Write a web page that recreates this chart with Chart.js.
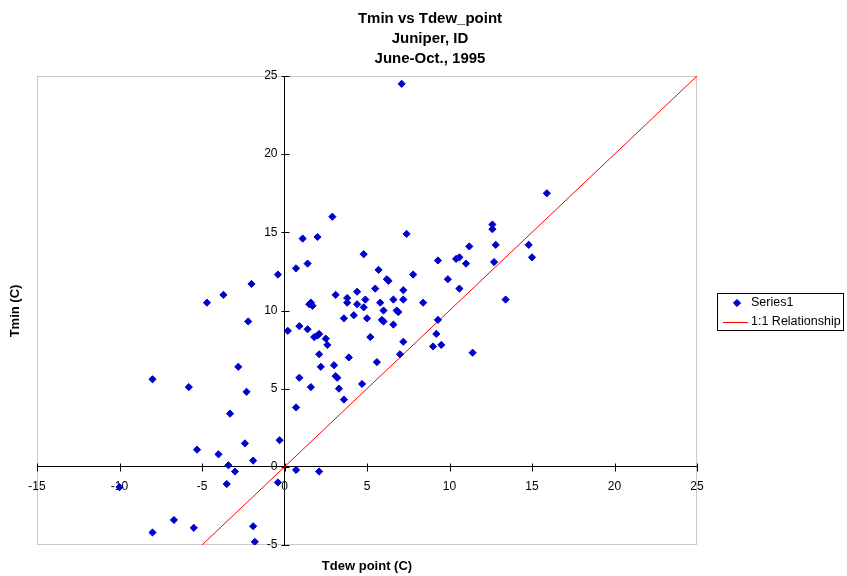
<!DOCTYPE html>
<html>
<head>
<meta charset="utf-8">
<title>Tmin vs Tdew_point</title>
<script src="https://cdn.jsdelivr.net/npm/chart.js@4/dist/chart.umd.min.js"></script>
<style>
    html, body { margin: 0; padding: 0; background: #fff; }
    #wrap { width: 847px; height: 576px; }
</style>
</head>
<body>
<div id="wrap">
    <canvas id="tminChart" width="847" height="576"></canvas>
</div>
<script>

/* =========================
   DADOS
========================= */

const titleLines = ["Tmin vs Tdew_point", "Juniper, ID", "June-Oct., 1995"];
const xAxisTitle = "Tdew point (C)";
const yAxisTitle = "Tmin (C)";
const seriesNames = ["Series1", "1:1 Relationship"];

const tdewPoint = [
    -0.4, -2.0, -3.7, -4.7, -2.2, 0.2, 0.9, -2.8, -8.0, -5.8,
    -2.3, 0.9, -3.3, 0.7, -0.3, -2.4, -5.3, -4.0, -1.9, -3.4,
    -3.0, 0.7, 2.1, -10.0, -3.5, -0.4, -6.7, -8.0, -5.5, -1.9,
    -1.8, 7.1, 2.9, 1.1, 2.0, 7.4, 4.8, 9.3, 0.7, 1.4,
    5.7, 7.8, 6.2, 6.3, 3.1, 4.4, 5.5, 7.2, 3.8, 3.8,
    4.9, 4.4, 5.8, 6.6, 7.2, 8.4, 1.6, 1.5, 1.7, 4.8,
    6.0, 6.8, 6.9, 4.2, 3.6, 5.0, 5.9, 6.0, 6.6, 1.4,
    1.8, 2.1, 2.0, 2.5, 2.6, 2.1, 5.2, 3.9, 2.2, 3.0,
    5.6, 7.2, 7.0, 9.3, 9.2, 9.0, 9.5, 3.1, 3.2, 1.6,
    3.3, 4.7, 3.6, 15.9, 12.6, 12.6, 11.2, 12.8, 14.8, 10.4,
    10.6, 11.0, 12.7, 15.0, 9.9, 10.6, 13.4, 11.4
];

const tmin = [
    12.3, 11.7, 11.0, 10.5, 9.3, 8.7, 9.0, 6.4, 5.6, 5.1,
    4.8, 5.7, 3.4, 3.8, 1.7, 1.5, 1.1, 0.8, 0.4, 0.1,
    -0.3, -0.2, -0.3, -1.3, -1.1, -1.0, -3.4, -4.2, -3.9, -3.8,
    -4.8, 24.5, 16.0, 14.6, 14.7, 14.9, 13.6, 13.2, 12.7, 13.0,
    12.6, 12.3, 12.0, 11.9, 11.0, 11.2, 11.4, 11.3, 10.8, 10.5,
    10.7, 10.4, 10.5, 10.7, 10.7, 10.5, 10.5, 10.4, 10.3, 10.2,
    10.0, 10.0, 9.9, 9.7, 9.5, 9.5, 9.4, 9.3, 9.1, 8.8,
    8.3, 8.5, 8.4, 8.2, 7.8, 7.2, 8.3, 7.0, 6.4, 6.5,
    6.7, 8.0, 7.2, 9.4, 8.5, 7.7, 7.8, 5.8, 5.7, 5.1,
    5.0, 5.3, 4.3, 17.5, 15.5, 15.2, 14.1, 14.2, 14.2, 13.3,
    13.4, 13.0, 13.1, 13.4, 12.0, 11.4, 10.7, 7.3
];

const oneToOneX = [-5, 25];
const oneToOneY = [-5, 25];

const xRange = [-15, 25];
const yRange = [-5, 25];
const tickStep = 5;


/* =========================
   ESTILO
========================= */

const FONT = "Arial, 'Liberation Sans', sans-serif";
const BLUE = "#0000cc";
const RED = "#ff0000";

Chart.defaults.font.family = FONT;
Chart.defaults.color = "#000";


/* =========================
   PLUGIN: MOLDURA, TICKS, TEXTOS, LEGENDA
========================= */

const excelLook = {

    id: "excelLook",

    beforeDraw(chart) {

        const { ctx, chartArea: a } = chart;

        ctx.save();
        ctx.strokeStyle = "#c8c8c8";
        ctx.lineWidth = 1;
        ctx.strokeRect(a.left + 0.5, a.top + 0.5, a.right - a.left - 1, a.bottom - a.top - 1);
        ctx.restore();

    },

    beforeDatasetsDraw(chart) {

        const { ctx, scales } = chart;
        const xs = scales.x;
        const ys = scales.y;
        const y0 = Math.round(ys.getPixelForValue(0)) + 0.5;
        const x0 = Math.round(xs.getPixelForValue(0)) + 0.5;

        ctx.save();
        ctx.strokeStyle = "#000";
        ctx.lineWidth = 1;
        ctx.beginPath();

        xs.ticks.forEach(t => {
            const px = Math.round(xs.getPixelForValue(t.value)) + 0.5;
            ctx.moveTo(px, y0 - 4);
            ctx.lineTo(px, y0 + 4);
        });

        ys.ticks.forEach(t => {
            const py = Math.round(ys.getPixelForValue(t.value)) + 0.5;
            ctx.moveTo(x0 - 4, py);
            ctx.lineTo(x0 + 4, py);
        });

        ctx.stroke();

        // rotulos do eixo Y, a esquerda do eixo em x = 0
        ctx.font = "12px " + FONT;
        ctx.fillStyle = "#000";
        ctx.textAlign = "right";
        ctx.textBaseline = "middle";
        ys.ticks.forEach(t => {
            ctx.fillText(String(t.value), x0 - 8, ys.getPixelForValue(t.value));
        });

        ctx.restore();

    },

    afterDraw(chart) {

        const { ctx, chartArea: a } = chart;

        ctx.save();
        ctx.fillStyle = "#000";
        ctx.textAlign = "center";
        ctx.textBaseline = "middle";

        // titulo
        ctx.font = "bold 15px " + FONT;
        titleLines.forEach((line, i) => {
            ctx.fillText(line, 430, 19 + i * 20);
        });

        // titulos dos eixos
        ctx.font = "bold 13px " + FONT;
        ctx.fillText(xAxisTitle, (a.left + a.right) / 2, 566);

        ctx.translate(15, 311);
        ctx.rotate(-Math.PI / 2);
        ctx.fillText(yAxisTitle, 0, 0);
        ctx.restore();

        // legenda
        ctx.save();
        ctx.strokeStyle = "#000";
        ctx.lineWidth = 1;
        ctx.strokeRect(717.5, 293.5, 126, 37);

        ctx.font = "12.5px " + FONT;
        ctx.fillStyle = "#000";
        ctx.textAlign = "left";
        ctx.textBaseline = "middle";
        ctx.fillText(seriesNames[0], 751, 303);
        ctx.fillText(seriesNames[1], 751, 322);

        ctx.fillStyle = BLUE;
        ctx.strokeStyle = BLUE;
        Chart.helpers.drawPoint(ctx, {
            pointStyle: "rectRot",
            radius: 3.6,
            borderWidth: 1,
            rotation: 0
        }, 737, 303);

        ctx.strokeStyle = RED;
        ctx.beginPath();
        ctx.moveTo(723, 322.5);
        ctx.lineTo(748, 322.5);
        ctx.stroke();
        ctx.restore();

    }

};


/* =========================
   GRAFICO
========================= */

const points = tdewPoint.map((x, i) => ({ x, y: tmin[i] }));
const diagonal = oneToOneX.map((x, i) => ({ x, y: oneToOneY[i] }));

new Chart(document.getElementById("tminChart"), {

    type: "scatter",

    data: {
        datasets: [
            {
                label: seriesNames[0],
                data: points,
                pointStyle: "rectRot",
                pointRadius: 3.6,
                pointBackgroundColor: BLUE,
                pointBorderColor: BLUE,
                pointBorderWidth: 1,
                order: 1
            },
            {
                label: seriesNames[1],
                type: "line",
                data: diagonal,
                borderColor: RED,
                borderWidth: 1,
                pointRadius: 0,
                fill: false,
                order: 2
            }
        ]
    },

    options: {
        responsive: false,
        animation: false,
        layout: {
            padding: { left: 37, top: 76, right: 150, bottom: 31 }
        },
        plugins: {
            legend: { display: false },
            title: { display: false },
            tooltip: { enabled: false }
        },
        scales: {
            x: {
                type: "linear",
                position: { y: 0 },
                min: xRange[0],
                max: xRange[1],
                ticks: { stepSize: tickStep, padding: 9, font: { size: 12 }, color: "#000" },
                grid: { display: false, drawTicks: true, tickLength: 4 },
                border: { display: true, color: "#000", width: 1 }
            },
            y: {
                type: "linear",
                position: { x: 0 },
                min: yRange[0],
                max: yRange[1],
                ticks: { display: false, stepSize: tickStep },
                grid: { display: false, drawTicks: true, tickLength: 4 },
                border: { display: true, color: "#000", width: 1 }
            }
        }
    },

    plugins: [excelLook]

});

</script>
</body>
</html>
